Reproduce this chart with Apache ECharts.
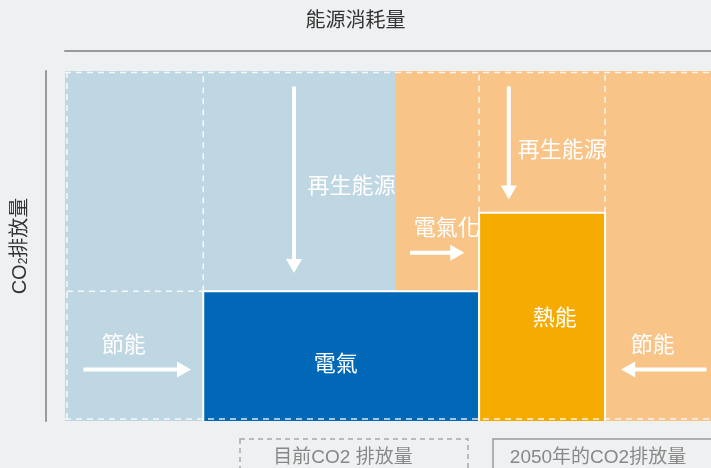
<!DOCTYPE html>
<html>
<head>
<meta charset="utf-8">
<script src="https://cdn.jsdelivr.net/npm/echarts@6/dist/echarts.min.js"></script>
<style>
html, body { margin: 0; padding: 0; background: #eff0f2; }
#main { width: 711px; height: 468px; }
</style>
</head>
<body>
<div id="main"></div>
<script>
// 能源消耗量 (x) 與 CO2排放量 (y)，單位 0-100
const zoneNames = ["目前", "2050"]
const zoneStart = [0, 51.1]
const zoneEnd = [51.1, 100]
const zoneHeight = [100, 100]

const blockNames = ["電氣", "熱能"]
const blockStart = [21.4, 64.1]
const blockEnd = [64.1, 83.6]
const blockHeight = [37.1, 59.5]

// 虛線輔助線 [x0, y0, x1, y1]
const guideLines = [
  [0.3, 0.6, 0.3, 99.6],
  [0, 99.6, 100, 99.6],
  [0, 0.6, 100, 0.6],
  [21.4, 37.1, 21.4, 100],
  [0.3, 37.1, 21.4, 37.1],
  [64.1, 59.5, 64.1, 100],
  [83.6, 59.5, 83.6, 100]
]

// 箭頭 [起點x, 起點y, 終點x, 終點y]
const arrowPaths = [
  [35.45, 95.6, 35.45, 42.3],
  [68.7, 95.6, 68.7, 63.3],
  [53.4, 48.1, 61.8, 48.1],
  [2.85, 14.7, 19.5, 14.7],
  [99.3, 14.7, 86.1, 14.7]
]

const labelTexts = ["再生能源", "再生能源", "電氣化", "電氣", "熱能", "節能", "節能"]
const labelX = [44.35, 76.9, 59.1, 41.9, 75.8, 9.1, 91.0]
const labelY = [67.6, 78.1, 55.6, 17.0, 29.9, 22.4, 22.4]

const FONT = '"Liberation Sans", "Noto Sans CJK TC", "Noto Sans CJK SC", sans-serif'
const zoneColors = ["#bfd6e3", "#f8c488"]
const blockColors = ["#0068b6", "#f6ab00"]

const chart = echarts.init(document.getElementById("main"))

const option = {
  backgroundColor: "#eff0f2",
  animation: false,
  title: {
    text: "能源消耗量",
    left: "center",
    top: 6,
    textStyle: { fontSize: 20, fontWeight: "normal", color: "#333", fontFamily: FONT }
  },
  grid: { left: 65, right: 0, top: 71, bottom: 47 },
  xAxis: {
    type: "value",
    min: 0,
    max: 100,
    position: "top",
    offset: 20,
    axisLine: { show: true, onZero: false, lineStyle: { color: "#9a9a9a", width: 2 } },
    axisTick: { show: false },
    axisLabel: { show: false },
    splitLine: { show: false }
  },
  yAxis: {
    type: "value",
    min: 0,
    max: 100,
    position: "left",
    offset: 19,
    axisLine: { show: true, onZero: false, lineStyle: { color: "#9a9a9a", width: 2 } },
    axisTick: { show: false },
    axisLabel: { show: false },
    splitLine: { show: false },
    name: "{a|CO}{b|2}{a|排放量}",
    nameLocation: "middle",
    nameRotate: 90,
    nameGap: 16,
    nameTextStyle: {
      rich: {
        a: { fontSize: 20, color: "#333", fontFamily: FONT },
        b: { fontSize: 12, color: "#333", fontFamily: FONT, verticalAlign: "bottom", padding: [7, 0, 0, 0] }
      }
    }
  },
  graphic: [
    {
      type: "rect",
      shape: { x: 240, y: 439, width: 228, height: 40 },
      style: { fill: "none", stroke: "#a8a8a8", lineWidth: 1.5, lineDash: [5, 4] }
    },
    {
      type: "text",
      x: 343,
      y: 458,
      style: { text: "目前CO2 排放量", fill: "#888", fontSize: 19, fontFamily: FONT, align: "center", verticalAlign: "middle" }
    },
    {
      type: "rect",
      shape: { x: 493, y: 439, width: 240, height: 40 },
      style: { fill: "none", stroke: "#9a9a9a", lineWidth: 1.5 }
    },
    {
      type: "text",
      x: 598,
      y: 458,
      style: { text: "2050年的CO2排放量", fill: "#888", fontSize: 19, fontFamily: FONT, align: "center", verticalAlign: "middle" }
    }
  ],
  series: [
    {
      name: "zones",
      type: "custom",
      data: zoneNames.map((n, i) => [zoneStart[i], zoneEnd[i], zoneHeight[i]]),
      renderItem: (params, api) => {
        const p0 = api.coord([api.value(0), api.value(2)])
        const p1 = api.coord([api.value(1), 0])
        return {
          type: "rect",
          shape: { x: p0[0], y: p0[1], width: p1[0] - p0[0], height: p1[1] - p0[1] },
          style: { fill: zoneColors[params.dataIndex] }
        }
      }
    },
    {
      name: "blocks",
      type: "custom",
      data: blockNames.map((n, i) => [blockStart[i], blockEnd[i], blockHeight[i]]),
      renderItem: (params, api) => {
        const x0 = api.value(0), x1 = api.value(1), h = api.value(2)
        const tl = api.coord([x0, h])
        const br = api.coord([x1, 0])
        return {
          type: "group",
          children: [
            {
              type: "rect",
              shape: { x: tl[0], y: tl[1], width: br[0] - tl[0], height: br[1] - tl[1] },
              style: { fill: blockColors[params.dataIndex] }
            },
            {
              type: "polyline",
              shape: { points: [[tl[0], br[1]], tl, [br[0], tl[1]], br] },
              style: { fill: "none", stroke: "#fff", lineWidth: 2 }
            }
          ]
        }
      }
    },
    {
      name: "guides",
      type: "custom",
      data: guideLines,
      renderItem: (params, api) => {
        const a = api.coord([api.value(0), api.value(1)])
        const b = api.coord([api.value(2), api.value(3)])
        return {
          type: "line",
          shape: { x1: a[0], y1: a[1], x2: b[0], y2: b[1] },
          style: { stroke: "rgba(255,255,255,0.85)", lineWidth: 1.5, lineDash: [6, 5] }
        }
      }
    },
    {
      name: "arrows",
      type: "custom",
      data: arrowPaths,
      renderItem: (params, api) => {
        const a = api.coord([api.value(0), api.value(1)])
        const b = api.coord([api.value(2), api.value(3)])
        const len = Math.hypot(b[0] - a[0], b[1] - a[1])
        const dx = (b[0] - a[0]) / len, dy = (b[1] - a[1]) / len
        const headLen = 14, headHalf = 8
        const base = [b[0] - dx * headLen, b[1] - dy * headLen]
        return {
          type: "group",
          children: [
            {
              type: "line",
              shape: { x1: a[0], y1: a[1], x2: base[0] + dx, y2: base[1] + dy },
              style: { stroke: "#fff", lineWidth: 4 }
            },
            {
              type: "polygon",
              shape: {
                points: [b, [base[0] - dy * headHalf, base[1] + dx * headHalf], [base[0] + dy * headHalf, base[1] - dx * headHalf]]
              },
              style: { fill: "#fff" }
            }
          ]
        }
      }
    },
    {
      name: "labels",
      type: "custom",
      data: labelX.map((x, i) => [x, labelY[i]]),
      renderItem: (params, api) => {
        const p = api.coord([api.value(0), api.value(1)])
        return {
          type: "text",
          x: p[0],
          y: p[1] + 3,
          style: {
            text: labelTexts[params.dataIndex],
            fill: "#fff",
            fontSize: 22,
            fontFamily: FONT,
            align: "center",
            verticalAlign: "middle"
          }
        }
      }
    }
  ]
}

chart.setOption(option)
</script>
</body>
</html>
